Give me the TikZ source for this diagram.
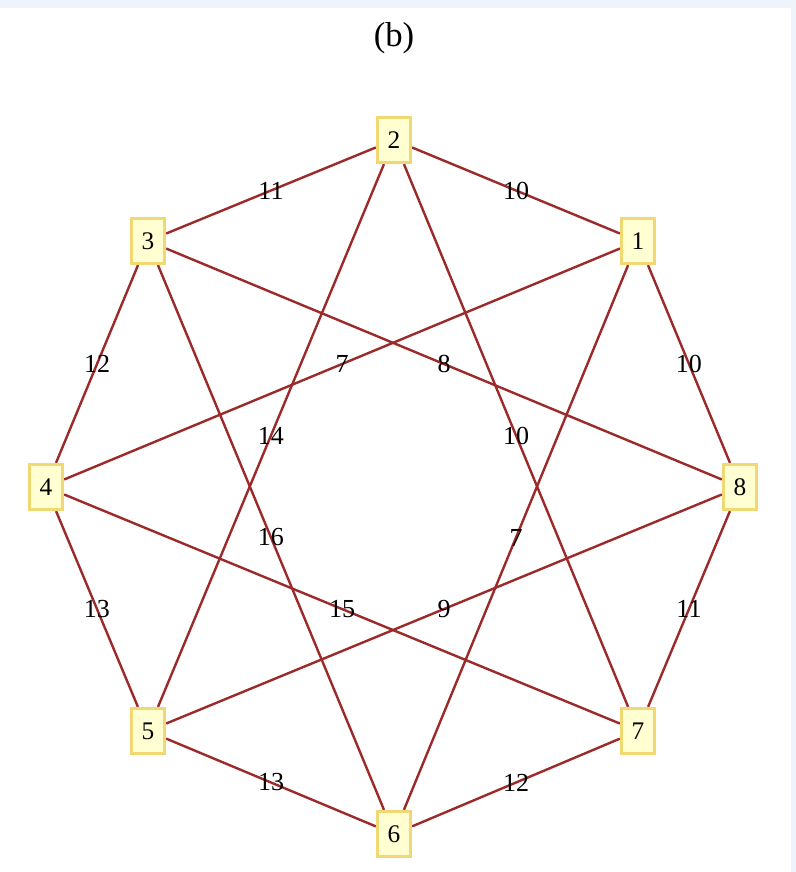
\documentclass[tikz,border=0pt]{standalone}
\usepackage{fontspec}
\setmainfont{Liberation Serif}
\definecolor{boxfill}{HTML}{FFFFD2}
\definecolor{boxline}{HTML}{F2D873}
\definecolor{wire}{HTML}{9C2A2A}
\definecolor{pane}{HTML}{EEF4FB}
\begin{document}
\begin{tikzpicture}[x=0.75pt,y=-0.75pt,
    city/.style={shape=rectangle,draw=boxline,fill=boxfill,line width=2.2pt,
        minimum width=25pt,minimum height=34pt,inner sep=0pt,font=\fontsize{19}{19}\selectfont},
    cost/.style={font=\fontsize{19.5}{19.5}\selectfont,inner sep=0pt},
    every edge/.style={draw=wire,line width=1.8pt}]
    \useasboundingbox (0,0) rectangle (796,872);
    \fill[white] (0,0) rectangle (796,872);
    \fill[pane] (0,0) rectangle (796,8);
    \fill[pane] (791,8) rectangle (796,872);

    \node[font=\fontsize{26}{26}\selectfont] (title) at (394,38) {(b)};

    \node[city] (n1) at (638,241) {1};
    \node[city] (n2) at (394,140) {2};
    \node[city] (n3) at (148,241) {3};
    \node[city] (n4) at (46,487) {4};
    \node[city] (n5) at (148,731) {5};
    \node[city] (n6) at (394,834) {6};
    \node[city] (n7) at (638,731) {7};
    \node[city] (n8) at (740,487) {8};

    % outer ring
    \path [-] (n2) edge node[cost] {10} (n1);
    \path [-] (n2) edge node[cost] {11} (n3);
    \path [-] (n3) edge node[cost] {12} (n4);
    \path [-] (n1) edge node[cost] {10} (n8);
    \path [-] (n4) edge node[cost] {13} (n5);
    \path [-] (n8) edge node[cost] {11} (n7);
    \path [-] (n5) edge node[cost] {13} (n6);
    \path [-] (n6) edge node[cost] {12} (n7);

    % star
    \path [-] (n1) edge node[cost] {7} (n4);
    \path [-] (n3) edge node[cost] {8} (n8);
    \path [-] (n2) edge node[cost] {14} (n5);
    \path [-] (n2) edge node[cost] {10} (n7);
    \path [-] (n3) edge node[cost] {16} (n6);
    \path [-] (n1) edge node[cost] {7} (n6);
    \path [-] (n4) edge node[cost] {15} (n7);
    \path [-] (n8) edge node[cost] {9} (n5);

    % boxes on top of the lines
    \foreach \k in {1,...,8} {
        \node[city] at (n\k) {\k};
    }
\end{tikzpicture}
\end{document}
